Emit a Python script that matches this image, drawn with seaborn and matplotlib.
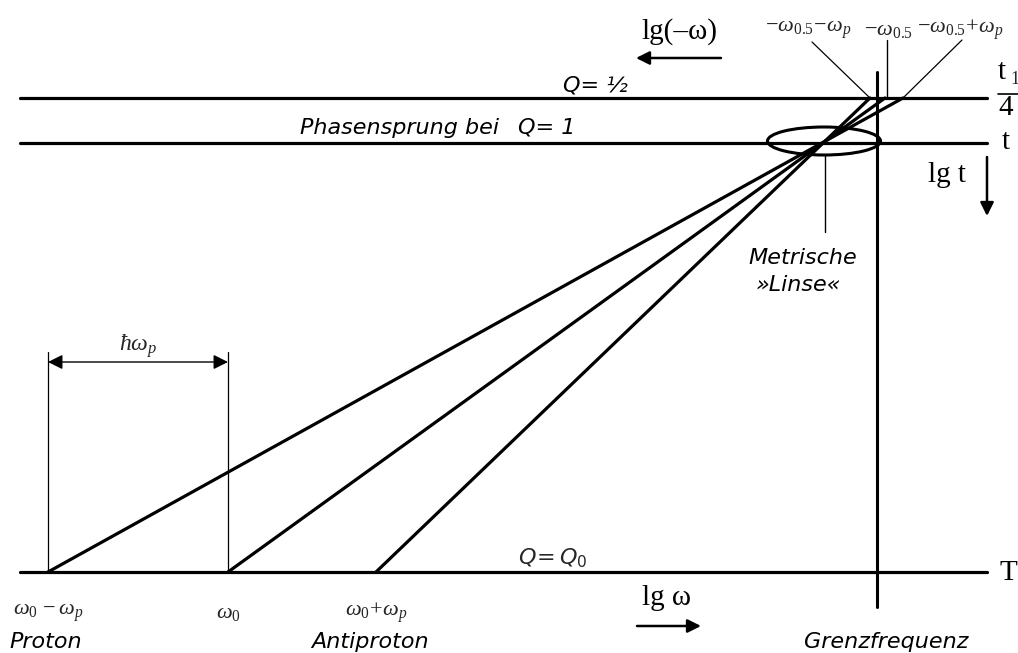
import numpy as np
import pandas as pd
import matplotlib
matplotlib.use("Agg")
import matplotlib.pyplot as plt
import seaborn as sns
from matplotlib.patches import Ellipse, FancyArrowPatch

sns.set_theme(style="white")
plt.rcParams['font.family'] = ['DejaVu Sans']
plt.rcParams['mathtext.fontset'] = 'custom'
plt.rcParams['mathtext.it'] = 'Liberation Serif:italic'
plt.rcParams['mathtext.rm'] = 'Liberation Serif'
plt.rcParams['mathtext.bf'] = 'Liberation Serif:bold'

# ---- data (diagram positions in pixel space of the 1018x653 canvas) ----
level_names = ["Q= ½", "Q= 1", r"$\mathit{Q}\!=\!\,\mathit{Q}_{\mathit{0}}$"]
level_y = [98, 143, 572]
ray_bottom_x = [48, 228, 376]          # ω0-ωp, ω0, ω0+ωp on T level
ray_top_x = [903, 885, 870]            # -ω0.5+ωp, -ω0.5, -ω0.5-ωp on Q=1/2 level
bottom_labels = [r"$\omega_{\mathit{0}}\,-\omega_p$", r"$\omega_{\mathit{0}}$",
                 r"$\omega_{\mathit{0}}\!+\!\omega_p$"]
particle_labels = ["Proton", "", "Antiproton"]
particle_x = [46, 0, 370]
top_labels = [r"$-\omega_{\mathit{0.5}}\!-\!\omega_p$", r"$-\omega_{\mathit{0.5}}$",
              r"$-\omega_{\mathit{0.5}}\!+\!\omega_p$"]
top_label_x = [808, 889, 960]
cutoff_x = 877
lens_center = (824, 141)
lens_size = (113, 28)

W, H = 1018, 653
fig = plt.figure(figsize=(W / 100, H / 100), dpi=100)
ax = fig.add_axes([0, 0, 1, 1])
ax.set_xlim(0, W)
ax.set_ylim(H, 0)
ax.axis("off")

sans_it = dict(family="DejaVu Sans", style="italic", fontsize=16, color="black")
serif = dict(family="Liberation Serif", fontsize=21, color="black")

# horizontal levels
lev_df = pd.DataFrame({
    "x": [20, 987] * 3,
    "y": np.repeat(level_y, 2),
    "lvl": np.repeat([0, 1, 2], 2),
})
sns.lineplot(data=lev_df, x="x", y="y", units="lvl", estimator=None, sort=False,
             color="black", lw=2.3, ax=ax, legend=False)

# rays through the metric lens
ray_df = pd.DataFrame({
    "x": np.ravel(np.column_stack([ray_bottom_x, ray_top_x])),
    "y": [level_y[2], level_y[0]] * 3,
    "ray": np.repeat([0, 1, 2], 2),
})
sns.lineplot(data=ray_df, x="x", y="y", units="ray", estimator=None, sort=False,
             color="black", lw=2.3, ax=ax, legend=False)

# cut-off frequency vertical
ax.plot([cutoff_x, cutoff_x], [72, 607], color="black", lw=2.2)

# lens ellipse
ax.add_patch(Ellipse(lens_center, lens_size[0], lens_size[1], fill=False,
                     ec="black", lw=2.2))
ax.plot([825, 825], [155, 232], color="black", lw=1.0)
ax.text(803, 258, "Metrische", ha="center", va="center", **sans_it)
ax.text(798, 285, "»Linse«", ha="center", va="center", **sans_it)

# thin verticals at ω0-ωp and ω0, plus ħωp dimension
for xv in ray_bottom_x[:2]:
    ax.plot([xv, xv], [352, level_y[2]], color="black", lw=0.9)
ax.add_patch(FancyArrowPatch((ray_bottom_x[0], 362), (ray_bottom_x[1], 362),
                             arrowstyle="<|-|>", mutation_scale=22, lw=1.0,
                             color="black", shrinkA=0, shrinkB=0))
ax.text(138, 346, r"$\hbar\omega_p$", ha="center", va="center", fontsize=17)

# bottom labels
for xv, lab in zip(ray_bottom_x, bottom_labels):
    ax.text(xv, 613, lab, ha="center", va="center", fontsize=16)
for xp, part in zip(particle_x, particle_labels):
    if part:
        ax.text(xp, 642, part, ha="center", va="center", **sans_it)
ax.text(886, 642, "Grenzfrequenz", ha="center", va="center", **sans_it)

# top labels with leaders
for xt, lab in zip(top_label_x, top_labels):
    ax.text(xt, 30, lab, ha="center", va="center", fontsize=16)
ax.plot([812, ray_top_x[2]], [42, level_y[0]], color="black", lw=0.9)
ax.plot([887, 887], [40, level_y[0]], color="black", lw=1.0)
ax.plot([962, ray_top_x[0]], [40, level_y[0]], color="black", lw=0.9)

# level names
ax.text(563, 86, level_names[0], ha="left", va="center", **sans_it)
ax.text(499, 128, "Phasensprung bei", ha="right", va="center", **sans_it)
ax.text(518, 128, level_names[1], ha="left", va="center", **sans_it)
ax.text(518, 558, level_names[2], ha="left", va="center", fontsize=16,
        math_fontfamily="dejavusans")

# right side labels
ax.text(998, 72, "t", ha="left", va="center", **serif)
ax.text(1010, 80, "1", ha="left", va="center", family="Liberation Serif", fontsize=13)
ax.plot([998, 1020], [94, 94], color="black", lw=1.2)
ax.text(998, 108, "4", ha="left", va="center", **serif)
ax.text(1002, 142, "t", ha="left", va="center", **serif)
ax.text(1000, 573, "T", ha="left", va="center", **serif)

# axis direction hints
ax.text(679, 32, "lg(–ω)", ha="center", va="center", **serif)
ax.add_patch(FancyArrowPatch((721, 58), (636, 58), arrowstyle="-|>",
                             mutation_scale=20, lw=1.8, color="black",
                             shrinkA=0, shrinkB=0))
ax.text(667, 598, "lg ω", ha="center", va="center", **serif)
ax.add_patch(FancyArrowPatch((637, 626), (701, 626), arrowstyle="-|>",
                             mutation_scale=20, lw=1.8, color="black",
                             shrinkA=0, shrinkB=0))
ax.text(947, 175, "lg t", ha="center", va="center", **serif)
ax.add_patch(FancyArrowPatch((987, 157), (987, 216), arrowstyle="-|>",
                             mutation_scale=20, lw=1.8, color="black",
                             shrinkA=0, shrinkB=0))

fig.savefig("out.png", dpi=100, facecolor="white")
